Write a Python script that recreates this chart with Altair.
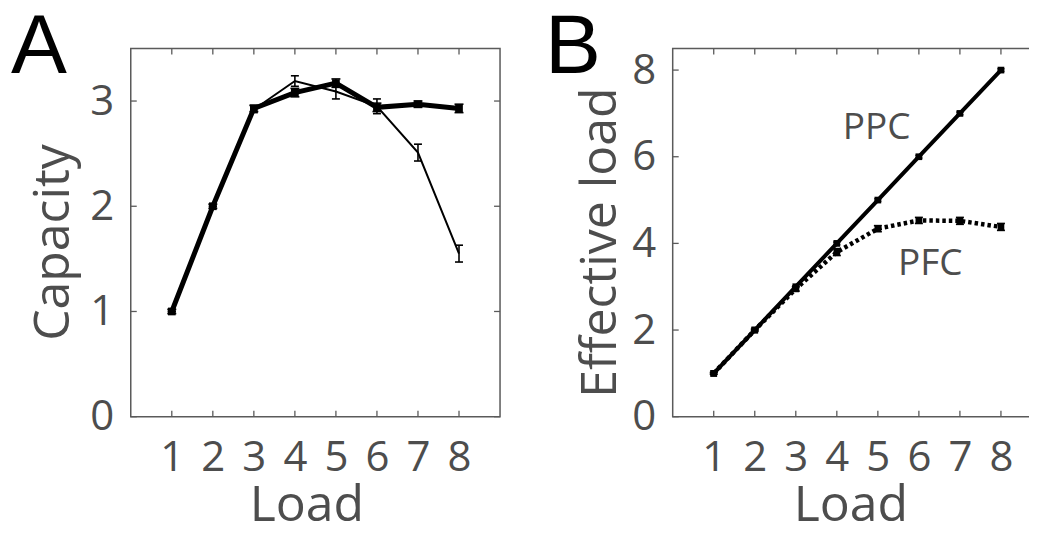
import altair as alt
import pandas as pd

# ---------------- data ----------------
loads = [1, 2, 3, 4, 5, 6, 7, 8]

# Panel A: capacity vs load
cap_bold = [1.00, 2.00, 2.93, 3.08, 3.17, 2.94, 2.97, 2.93]
cap_bold_err = [0.02, 0.02, 0.03, 0.04, 0.04, 0.04, 0.03, 0.04]
cap_thin = [1.00, 2.00, 2.92, 3.19, 3.09, 2.95, 2.51, 1.55]
cap_thin_err = [0.00, 0.00, 0.03, 0.05, 0.07, 0.07, 0.08, 0.08]
cap_ticks = [0, 1, 2, 3]

# Panel B: effective load vs load
eff_ppc = [1.00, 2.00, 3.00, 4.00, 5.00, 6.00, 7.00, 8.00]
eff_ppc_err = [0.02, 0.02, 0.02, 0.03, 0.03, 0.03, 0.03, 0.03]
eff_pfc = [1.00, 2.00, 2.95, 3.80, 4.34, 4.53, 4.52, 4.38]
eff_pfc_err = [0.02, 0.02, 0.05, 0.08, 0.07, 0.07, 0.08, 0.08]
eff_ticks = [0, 2, 4, 6, 8]

ann_text = ["PPC", "PFC"]
ann_x = [4.97, 6.28]
ann_y = [6.41, 3.26]

# ---------------- style ----------------
FONT = "Open Sans"
TEXT = "#4d4d4d"
FRAME = "#5a5a5a"
H = 369
W = 370


def series_df(vals, errs):
    return pd.DataFrame({
        "load": loads,
        "v": vals,
        "lo": [v - e for v, e in zip(vals, errs)],
        "hi": [v + e for v, e in zip(vals, errs)],
    })


def panel(xdom, ydom, yticks, ytitle, ytitle_x, xtitle_x, series, letter, letter_x, annotations=None):
    xaxis = alt.Axis(values=loads, title="Load", ticks=False, domain=False, grid=False,
                     labelFont=FONT, labelFontSize=42, labelColor=TEXT, labelPadding=21,
                     labelFlush=False, labelOverlap=False,
                     titleFont=FONT, titleFontSize=50, titleColor=TEXT, titleFontWeight="normal",
                     titleX=xtitle_x, titleY=64, titleBaseline="top")
    yaxis = alt.Axis(values=yticks, title=ytitle, ticks=False, domain=False, grid=False,
                     labelFont=FONT, labelFontSize=42, labelColor=TEXT, labelPadding=17,
                     labelFlush=False, labelOverlap=False,
                     titleFont=FONT, titleFontSize=50, titleColor=TEXT, titleFontWeight="normal",
                     titleX=ytitle_x, titleY=194, titleBaseline="bottom")
    xs = alt.Scale(domain=xdom, nice=False, zero=False)
    ys = alt.Scale(domain=ydom, nice=False, zero=False)
    X = alt.X("load:Q", scale=xs, axis=xaxis)
    Y = alt.Y("v:Q", scale=ys, axis=yaxis)

    xt = alt.Chart(pd.DataFrame({"load": loads}))
    yt = alt.Chart(pd.DataFrame({"v": yticks}))
    layers = [
        xt.mark_rule(color=FRAME, strokeWidth=1.3).encode(x=X, y=alt.value(H), y2=alt.value(H - 6)),
        xt.mark_rule(color=FRAME, strokeWidth=1.3).encode(x=X, y=alt.value(0), y2=alt.value(6)),
        yt.mark_rule(color=FRAME, strokeWidth=1.3).encode(y=Y, x=alt.value(0), x2=alt.value(6)),
        yt.mark_rule(color=FRAME, strokeWidth=1.3).encode(y=Y, x=alt.value(W - 6), x2=alt.value(W)),
    ]
    for s in series:
        base = alt.Chart(s["df"])
        line_kw = dict(color="black", strokeWidth=s["sw"])
        if s.get("dash"):
            line_kw["strokeDash"] = s["dash"]
        layers.append(base.mark_line(**line_kw).encode(x=X, y=Y))
        layers.append(base.mark_rule(color="black", strokeWidth=1.6).encode(x=X, y=alt.Y("lo:Q", scale=ys, axis=yaxis), y2="hi:Q"))
        layers.append(base.mark_tick(color="black", orient="horizontal", size=s["cap"], thickness=1.6, opacity=1)
                      .encode(x=X, y=alt.Y("lo:Q", scale=ys, axis=yaxis)))
        layers.append(base.mark_tick(color="black", orient="horizontal", size=s["cap"], thickness=1.6, opacity=1)
                      .encode(x=X, y=alt.Y("hi:Q", scale=ys, axis=yaxis)))
        if s["marker"] > 0:
            layers.append(base.mark_square(color="black", size=s["marker"], opacity=1).encode(x=X, y=Y))
    if annotations is not None:
        layers.append(alt.Chart(annotations).mark_text(font=FONT, fontSize=37, color=TEXT,
                                                       align="center", baseline="alphabetic")
                      .encode(x=X, y=Y, text="t:N"))
    layers.append(alt.Chart(pd.DataFrame({"t": [letter]})).mark_text(
        font="Liberation Sans", fontSize=84, color="black", align="left", baseline="alphabetic")
        .encode(x=alt.value(letter_x), y=alt.value(25), text="t:N"))
    return alt.layer(*layers).properties(width=W, height=H)


pa = panel(
    [0, 9], [0, 3.5], cap_ticks, "Capacity", -52, 176,
    [
        dict(df=series_df(cap_bold, cap_bold_err), sw=5, marker=60, cap=9),
        dict(df=series_df(cap_thin, cap_thin_err), sw=2, marker=0, cap=8),
    ],
    "A", -120,
)

pb = panel(
    [0, 9], [0, 8.5], eff_ticks, "Effective load", -47, 178,
    [
        dict(df=series_df(eff_ppc, eff_ppc_err), sw=4, marker=45, cap=7),
        dict(df=series_df(eff_pfc, eff_pfc_err), sw=4.5, marker=45, cap=8, dash=[3.5, 3]),
    ],
    "B", -128,
    annotations=pd.DataFrame({"load": ann_x, "v": ann_y, "t": ann_text}),
)

chart = (
    alt.hconcat(pa, pb, spacing=173, bounds="flush")
    .configure_view(stroke=FRAME, strokeWidth=1.5)
    .properties(padding={"left": 2, "top": -3, "right": -15, "bottom": -10})
)

chart.save("out.html", embed_options={"renderer": "svg", "actions": False})
